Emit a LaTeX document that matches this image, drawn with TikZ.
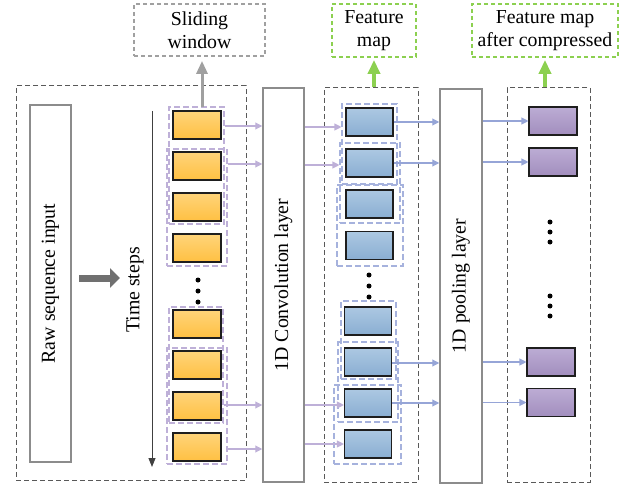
\documentclass[tikz,border=0pt]{standalone}
\usepackage{fontspec}
\setmainfont{Liberation Serif}
\usetikzlibrary{arrows.meta}

\definecolor{layergray}{RGB}{140,140,140}
\definecolor{secgray}{RGB}{89,89,89}
\definecolor{lblgray}{RGB}{160,160,160}
\definecolor{arrgray}{RGB}{112,112,112}
\definecolor{lgreen}{RGB}{140,208,80}
\definecolor{lav}{RGB}{190,176,216}
\definecolor{lavblue}{RGB}{150,165,215}
\definecolor{yeltop}{RGB}{255,212,122}
\definecolor{yelbot}{RGB}{255,192,66}
\definecolor{bluetop}{RGB}{172,200,226}
\definecolor{bluebot}{RGB}{138,174,210}
\definecolor{purtop}{RGB}{188,172,212}
\definecolor{purbot}{RGB}{162,142,190}
\definecolor{boxline}{RGB}{30,30,30}

\tikzset{
  txt/.style={font=\fontsize{19.8}{23}\selectfont, align=center, inner sep=0pt},
  rect/.style={rectangle, inner sep=0pt},
  layer/.style={rect, draw=layergray, line width=1.5pt, fill=white},
  section/.style={rect, draw=secgray, line width=1pt, dash pattern=on 5pt off 3pt},
  graylabel/.style={rect, draw=lblgray, line width=1.8pt, dash pattern=on 4pt off 3pt},
  greenlabel/.style={rect, draw=lgreen, line width=1.8pt, dash pattern=on 4pt off 3pt},
  cell/.style={rect, draw=boxline, line width=1.1pt, minimum height=28pt},
  ycell/.style={cell, minimum width=48pt, top color=yeltop, bottom color=yelbot},
  bcell/.style={cell, minimum width=47pt, top color=bluetop, bottom color=bluebot},
  pcell/.style={cell, minimum width=48pt, top color=purtop, bottom color=purbot},
  ywin/.style={rect, draw=lav, line width=1.1pt, dash pattern=on 6pt off 3pt},
  bwin/.style={rect, draw=lavblue!85, line width=1.1pt, dash pattern=on 6pt off 3pt},
  lavarrow/.style={draw=lav, line width=1.1pt, -{Triangle[length=7pt,width=7pt]}},
  bluarrow/.style={draw=lavblue, line width=1.1pt, -{Triangle[length=7pt,width=7pt]}},
  dotmark/.style={circle, fill=black, inner sep=0pt, minimum size=5pt},
}

\begin{document}
\begin{tikzpicture}[x=1pt,y=-1pt]
\useasboundingbox (0,0) rectangle (633,487);

% ---- section frames and layer boxes
\node[section, minimum width=230pt, minimum height=394pt] (sec1) at (131,283) {};
\node[section, minimum width=94pt, minimum height=394pt] (sec2) at (371,285) {};
\node[section, minimum width=83pt, minimum height=394pt] (sec3) at (548.5,285) {};

\node[layer, minimum width=41pt, minimum height=357pt] (raw) at (50.5,283.5) {};
\node[txt, rotate=90] (rawtxt) at (raw.center) {Raw sequence input};

\node[layer, minimum width=41pt, minimum height=394pt] (conv) at (283.5,285) {};
\node[txt, rotate=90] (convtxt) at (conv.center) {1D Convolution layer};

\node[layer, minimum width=42pt, minimum height=394pt] (pool) at (461,286) {};
\node[txt, rotate=90] (pooltxt) at (pool.center) {1D pooling layer};

% ---- labels on top
\node[graylabel, minimum width=131pt, minimum height=52pt] (slide) at (199.5,30) {};
\node[txt] (slidetxt) at (slide.center) {Sliding\\window};
\node[greenlabel, minimum width=84pt, minimum height=53pt] (fmap) at (374,30.5) {};
\node[txt] (fmaptxt) at (fmap.center) {Feature\\map};
\node[greenlabel, minimum width=146pt, minimum height=53pt] (fmapc) at (545,30.5) {};
\node[txt] (fmapctxt) at (fmapc.center) {Feature map\\after compressed};

% ---- input arrow and time axis
\coordinate (ga1) at (79,278);
\coordinate (ga2) at (120,278);
\draw[arrgray, line width=7pt, -{Triangle[length=10pt,width=19pt]}] (ga1) -- (ga2);

\coordinate (ts1) at (152,111);
\coordinate (ts2) at (152,467);
\draw[draw=black!75, line width=1pt, -{Triangle[length=9pt,width=7pt]}] (ts1) -- (ts2);
\node[txt, rotate=90] (tstxt) at (135,290) {Time steps};

% ---- sequence cells
\foreach \n/\y in {1/125,2/166,3/207,4/248,5/324,6/365,7/406,8/447}
  \node[ycell] (y\n) at (197,\y) {};
\foreach \n/\y in {1/280,2/291,3/302}
  \node[dotmark] (yd\n) at (198,\y) {};

% sliding windows over the sequence
\node[ywin, minimum width=55pt, minimum height=117pt] (yw1) at (196.5,165.5) {};
\node[ywin, minimum width=60pt, minimum height=117pt] (yw2) at (197,207.5) {};
\node[ywin, minimum width=54pt, minimum height=116pt] (yw3) at (196,365) {};
\node[ywin, minimum width=60pt, minimum height=116pt] (yw4) at (197,406) {};

% ---- feature map cells
\foreach \n/\y in {1/122,2/163,3/204,4/245.5}
  \node[bcell] (b\n) at (369.5,\y) {};
\foreach \n/\y in {5/321,6/362,7/403,8/444}
  \node[bcell] (b\n) at (368,\y) {};
\foreach \n/\y in {1/275,2/286,3/297}
  \node[dotmark] (bd\n) at (369,\y) {};

% pooling windows over the feature map
\node[bwin, minimum width=55pt, minimum height=80pt] (bwA) at (369.5,144) {};
\node[bwin, minimum width=60pt, minimum height=80pt] (bwB) at (370,183) {};
\node[bwin, minimum width=66pt, minimum height=81pt] (bwC) at (370,225.5) {};
\node[bwin, minimum width=55pt, minimum height=78pt] (bwD) at (368.5,340) {};
\node[bwin, minimum width=60pt, minimum height=80pt] (bwE) at (368,382) {};
\node[bwin, minimum width=67pt, minimum height=79pt] (bwF) at (367.5,424.5) {};

% ---- compressed feature map cells
\node[pcell] (p1) at (553,121) {};
\node[pcell] (p2) at (553,162) {};
\node[pcell] (p3) at (551,362) {};
\node[pcell] (p4) at (551,402.5) {};
\foreach \n/\y in {1/222,2/232,3/242,4/296,5/306,6/316}
  \node[dotmark] (pd\n) at (550,\y) {};

% ---- connectors: windows -> convolution
\coordinate (r1) at (0,126);
\coordinate (r2) at (0,164);
\coordinate (r3) at (0,405);
\coordinate (r4) at (0,449);
\draw[lavarrow] (yw1.east |- r1) -- (conv.west |- r1);
\draw[lavarrow] (yw2.east |- r2) -- (conv.west |- r2);
\draw[lavarrow] (yw3.east |- r3) -- (conv.west |- r3);
\draw[lavarrow] (yw4.east |- r4) -- (conv.west |- r4);

% convolution -> feature map
\coordinate (c1) at (0,127);
\coordinate (c2) at (0,165);
\coordinate (c3) at (0,405);
\coordinate (c4) at (0,444);
\draw[lavarrow] (conv.east |- c1) -- (bwA.west |- c1);
\draw[lavarrow] (conv.east |- c2) -- (bwB.west |- c2);
\draw[lavarrow] (conv.east |- c3) -- (b7.west |- c3);
\draw[lavarrow] (conv.east |- c4) -- (b8.west |- c4);

% feature map -> pooling
\coordinate (f1) at (0,122);
\coordinate (f2) at (0,163);
\coordinate (f3) at (0,363);
\coordinate (f4) at (0,403);
\draw[bluarrow] (b1.east |- f1) -- (pool.west |- f1);
\draw[bluarrow] (b2.east |- f2) -- (pool.west |- f2);
\draw[bluarrow] (b6.east |- f3) -- (pool.west |- f3);
\draw[bluarrow] (b7.east |- f4) -- (pool.west |- f4);

% pooling -> compressed map
\draw[bluarrow] (pool.east |- p1.west) -- (p1.west);
\draw[bluarrow] (pool.east |- p2.west) -- (p2.west);
\draw[bluarrow] (pool.east |- p3.west) -- (p3.west);
\draw[bluarrow] (pool.east |- p4.west) -- (p4.west);

% ---- label arrows
\coordinate (sw) at (202,107);
\draw[lblgray, line width=3pt, -{Triangle[length=13pt,width=11pt]}, shorten >=4pt] (sw) -- (sw |- slide.south);
\draw[lgreen, line width=3.5pt, -{Triangle[length=14pt,width=12pt]}, shorten >=2pt] (fmap.south |- sec2.north) -- (fmap.south);
\draw[lgreen, line width=3.5pt, -{Triangle[length=14pt,width=12pt]}, shorten >=2pt] (fmapc.south |- sec3.north) -- (fmapc.south);
\end{tikzpicture}
\end{document}
